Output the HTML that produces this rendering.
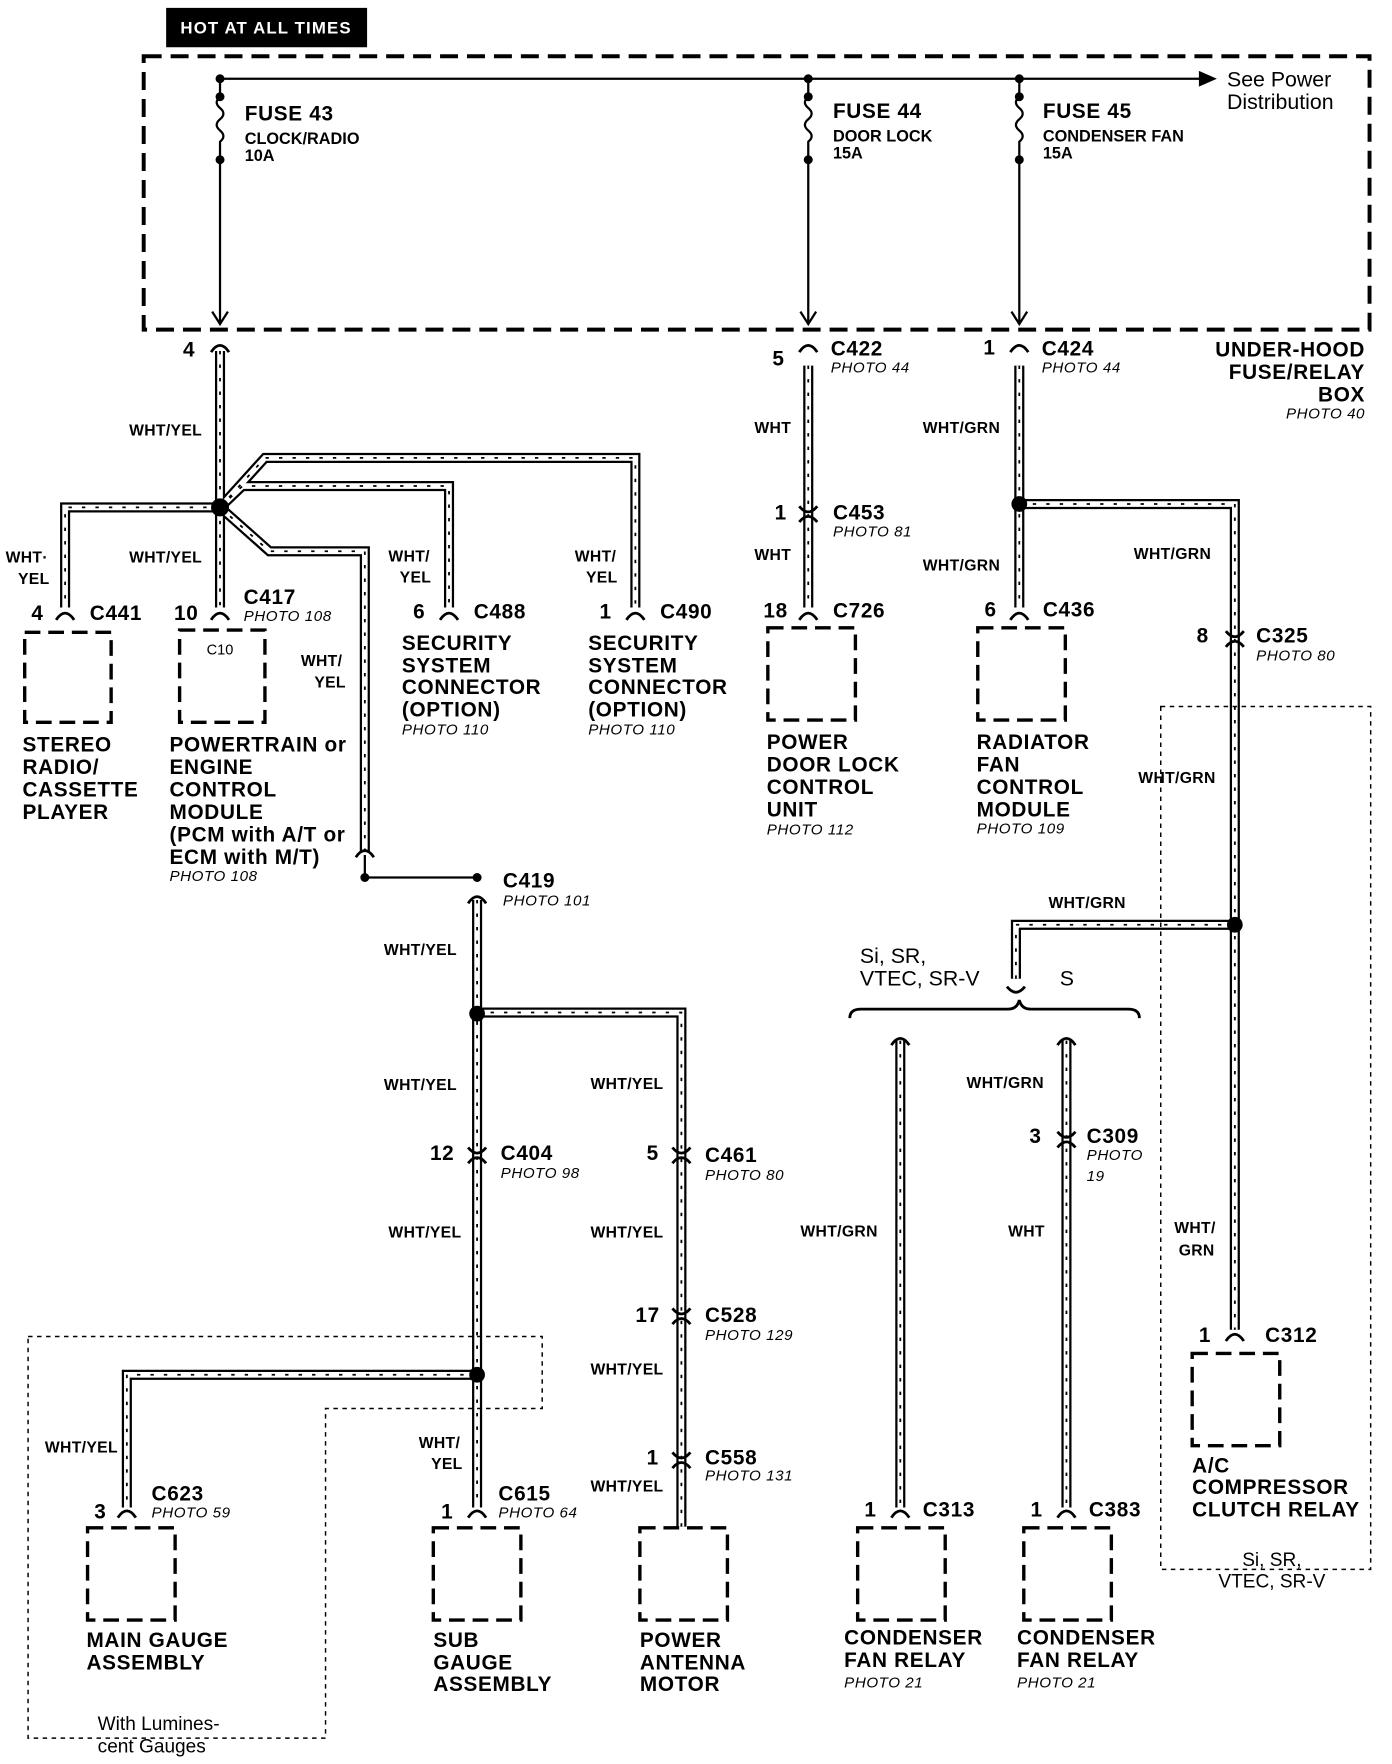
<!DOCTYPE html>
<html><head><meta charset="utf-8"><style>
html,body{margin:0;padding:0;background:#fff}
svg{display:block}
text{font-family:"Liberation Sans",Arial,sans-serif;fill:#000}
.b{font-weight:bold;font-size:18.5px;letter-spacing:0.6px}
.s{font-weight:bold;font-size:14.5px}
.p{font-style:italic;font-size:13.5px;letter-spacing:0.5px}
.w{font-weight:bold;font-size:14px;letter-spacing:0.3px}
.t{font-size:19px}
.o{stroke:#000;stroke-width:9;fill:none}
.i{stroke:#fff;stroke-width:5;fill:none}
.d{stroke:#000;stroke-width:1.6;fill:none;stroke-dasharray:3 9}
.bx{fill:none;stroke:#000;stroke-width:3;stroke-dasharray:14 7}
.c{fill:none;stroke:#000;stroke-width:2.5}
</style></head><body>
<svg width="1392" height="1764" viewBox="0 0 1240 1568" preserveAspectRatio="none" xmlns="http://www.w3.org/2000/svg">
<defs>
<g id="wires">
<path d="M196 312 V451"/>
<path d="M196 451 H58 V540"/>
<path d="M196 451 V540"/>
<path d="M196 451 L236 407 H566 V540"/>
<path d="M196 451 L216 432 H400 V540"/>
<path d="M196 451 L240 490 H325 V758"/>
<path d="M425 800 V1340"/>
<path d="M425 900 H607 V1357"/>
<path d="M425 1222 H113 V1340"/>
<path d="M720 325 V540"/>
<path d="M908 325 V540"/>
<path d="M908 448 H1100 V1182"/>
<path d="M1100 822 H905 V870"/>
<path d="M802 925 V1340"/>
<path d="M950 925 V1340"/>
</g>
</defs>
<rect x="148" y="7" width="179" height="35" fill="#000"/>
<text x="237" y="30" text-anchor="middle" style="font-weight:bold;font-size:15px;fill:#fff;letter-spacing:1px">HOT AT ALL TIMES</text>
<rect x="128" y="50" width="1092" height="243" fill="none" stroke="#000" stroke-width="3.5" stroke-dasharray="16 8"/>
<path d="M196 70 H1072" stroke="#000" stroke-width="2"/>
<path d="M1068 63 L1084 70 L1068 77 Z" fill="#000"/>
<text x="1093" y="77" class="t">See Power</text>
<text x="1093" y="97" class="t">Distribution</text>
<g stroke="#000" stroke-width="2" fill="none">
<path d="M196 70 V86 q-6 5 0 10 q6 5 0 10 q-6 5 0 10 q6 5 0 10 V286"/>
<path d="M720 70 V86 q-6 5 0 10 q6 5 0 10 q-6 5 0 10 q6 5 0 10 V286"/>
<path d="M908 70 V86 q-6 5 0 10 q6 5 0 10 q-6 5 0 10 q6 5 0 10 V286"/>
<path d="M189 277 L196 288 L203 277"/><path d="M713 277 L720 288 L727 277"/><path d="M901 277 L908 288 L915 277"/>
<path d="M325 760 V780 H425"/>
</g>
<g fill="#000">
<circle cx="196" cy="70" r="4"/><circle cx="720" cy="70" r="4"/><circle cx="908" cy="70" r="4"/>
<circle cx="196" cy="86" r="4"/><circle cx="196" cy="142" r="4"/>
<circle cx="720" cy="86" r="4"/><circle cx="720" cy="142" r="4"/>
<circle cx="908" cy="86" r="4"/><circle cx="908" cy="142" r="4"/>
<circle cx="325" cy="780" r="4"/><circle cx="425" cy="780" r="4"/>
</g>
<text x="218" y="107" class="b">FUSE 43</text><text x="218" y="128" class="s">CLOCK/RADIO</text><text x="218" y="143" class="s">10A</text>
<text x="742" y="105" class="b">FUSE 44</text><text x="742" y="126" class="s">DOOR LOCK</text><text x="742" y="141" class="s">15A</text>
<text x="929" y="105" class="b">FUSE 45</text><text x="929" y="126" class="s">CONDENSER FAN</text><text x="929" y="141" class="s">15A</text>
<text x="1216" y="317" class="b" text-anchor="end">UNDER-HOOD</text>
<text x="1216" y="337" class="b" text-anchor="end">FUSE/RELAY</text>
<text x="1216" y="357" class="b" text-anchor="end">BOX</text>
<text x="1216" y="372" class="p" text-anchor="end">PHOTO 40</text>
<use href="#wires" class="o"/><use href="#wires" class="i"/><use href="#wires" class="d"/>
<g fill="#000"><circle cx="196" cy="451" r="8"/><circle cx="425" cy="901" r="7"/><circle cx="425" cy="1222" r="7"/><circle cx="908" cy="448" r="7"/><circle cx="1100" cy="822" r="7"/></g>
<g class="c">
<path d="M188 313 q8 -12 16 0"/><path d="M712 313 q8 -12 16 0"/><path d="M900 313 q8 -12 16 0"/>
<path d="M50 551 q8 -12 16 0"/><path d="M188 551 q8 -12 16 0"/><path d="M392 551 q8 -12 16 0"/><path d="M558 551 q8 -12 16 0"/>
<path d="M712 551 q8 -12 16 0"/><path d="M900 551 q8 -12 16 0"/>
<path d="M712 450 q8 10 16 0"/><path d="M712 464 q8 -10 16 0"/>
<path d="M1092 561 q8 10 16 0"/><path d="M1092 575 q8 -10 16 0"/>
<path d="M317 762 q8 -12 16 0"/><path d="M417 803 q8 -12 16 0"/>
<path d="M417 1020 q8 10 16 0"/><path d="M417 1034 q8 -10 16 0"/>
<path d="M599 1020 q8 10 16 0"/><path d="M599 1034 q8 -10 16 0"/>
<path d="M599 1163 q8 10 16 0"/><path d="M599 1177 q8 -10 16 0"/>
<path d="M599 1291 q8 10 16 0"/><path d="M599 1305 q8 -10 16 0"/>
<path d="M942 1006 q8 10 16 0"/><path d="M942 1020 q8 -10 16 0"/>
<path d="M794 929 q8 -12 16 0"/><path d="M942 929 q8 -12 16 0"/><path d="M897 877 q8 10 16 0"/>
<path d="M105 1349 q8 -12 16 0"/><path d="M417 1349 q8 -12 16 0"/><path d="M794 1349 q8 -12 16 0"/><path d="M942 1349 q8 -12 16 0"/><path d="M1092 1192 q8 -12 16 0"/>
<path d="M757 905 q0 -8 10 -8 H898 q8 0 10 -8 q2 8 10 8 H1005 q10 0 10 8"/>
</g>
<rect class="bx" x="22" y="562" width="77" height="80"/>
<rect class="bx" x="160" y="560" width="76" height="82"/>
<rect class="bx" x="684" y="558" width="78" height="82"/>
<rect class="bx" x="871" y="558" width="78" height="82"/>
<rect class="bx" x="78" y="1358" width="78" height="82"/>
<rect class="bx" x="386" y="1358" width="78" height="82"/>
<rect class="bx" x="570" y="1358" width="78" height="82"/>
<rect class="bx" x="764" y="1358" width="78" height="82"/>
<rect class="bx" x="912" y="1358" width="78" height="82"/>
<rect class="bx" x="1062" y="1203" width="78" height="82"/>
<text x="196" y="582" text-anchor="middle" style="font-size:13px">C10</text>
<rect x="1034" y="628" width="187" height="767" fill="none" stroke="#000" stroke-width="1.3" stroke-dasharray="4 4"/>
<path d="M25 1188 H483 V1252 H290 V1545 H25 Z" fill="none" stroke="#000" stroke-width="1.3" stroke-dasharray="4 4"/>
<text x="163" y="317" class="b">4</text>
<text x="688" y="325" class="b">5</text><text x="740" y="316" class="b">C422</text><text x="740" y="331" class="p">PHOTO 44</text>
<text x="876" y="315" class="b">1</text><text x="928" y="316" class="b">C424</text><text x="928" y="331" class="p">PHOTO 44</text>
<text x="115" y="387" class="w">WHT/YEL</text>
<text x="672" y="385" class="w">WHT</text>
<text x="822" y="385" class="w">WHT/GRN</text>
<text x="690" y="462" class="b">1</text><text x="742" y="462" class="b">C453</text><text x="742" y="477" class="p">PHOTO 81</text>
<text x="672" y="498" class="w">WHT</text>
<text x="822" y="507" class="w">WHT/GRN</text>
<text x="1010" y="497" class="w">WHT/GRN</text>
<text x="5" y="500" class="w">WHT·</text><text x="16" y="519" class="w">YEL</text>
<text x="115" y="500" class="w">WHT/YEL</text>
<text x="346" y="499" class="w">WHT/</text><text x="356" y="518" class="w">YEL</text>
<text x="512" y="499" class="w">WHT/</text><text x="522" y="518" class="w">YEL</text>
<text x="268" y="592" class="w">WHT/</text><text x="280" y="611" class="w">YEL</text>
<text x="28" y="551" class="b">4</text><text x="80" y="551" class="b">C441</text>
<text x="155" y="551" class="b">10</text><text x="217" y="537" class="b">C417</text><text x="217" y="552" class="p">PHOTO 108</text>
<text x="368" y="550" class="b">6</text><text x="422" y="550" class="b">C488</text>
<text x="534" y="550" class="b">1</text><text x="588" y="550" class="b">C490</text>
<text x="680" y="549" class="b">18</text><text x="742" y="549" class="b">C726</text>
<text x="877" y="548" class="b">6</text><text x="929" y="548" class="b">C436</text>
<text x="1066" y="571" class="b">8</text><text x="1119" y="571" class="b">C325</text><text x="1119" y="587" class="p">PHOTO 80</text>
<text x="1014" y="696" class="w">WHT/GRN</text>
<text x="20" y="668" class="b">STEREO</text><text x="20" y="688" class="b">RADIO/</text><text x="20" y="708" class="b">CASSETTE</text><text x="20" y="728" class="b">PLAYER</text>
<text x="151" y="668" class="b">POWERTRAIN or</text><text x="151" y="688" class="b">ENGINE</text><text x="151" y="708" class="b">CONTROL</text><text x="151" y="728" class="b">MODULE</text><text x="151" y="748" class="b">(PCM with A/T or</text><text x="151" y="768" class="b">ECM with M/T)</text><text x="151" y="783" class="p">PHOTO 108</text>
<text x="358" y="578" class="b">SECURITY</text><text x="358" y="598" class="b">SYSTEM</text><text x="358" y="617" class="b">CONNECTOR</text><text x="358" y="637" class="b">(OPTION)</text><text x="358" y="653" class="p">PHOTO 110</text>
<text x="524" y="578" class="b">SECURITY</text><text x="524" y="598" class="b">SYSTEM</text><text x="524" y="617" class="b">CONNECTOR</text><text x="524" y="637" class="b">(OPTION)</text><text x="524" y="653" class="p">PHOTO 110</text>
<text x="683" y="666" class="b">POWER</text><text x="683" y="686" class="b">DOOR LOCK</text><text x="683" y="706" class="b">CONTROL</text><text x="683" y="726" class="b">UNIT</text><text x="683" y="742" class="p">PHOTO 112</text>
<text x="870" y="666" class="b">RADIATOR</text><text x="870" y="686" class="b">FAN</text><text x="870" y="706" class="b">CONTROL</text><text x="870" y="726" class="b">MODULE</text><text x="870" y="741" class="p">PHOTO 109</text>
<text x="448" y="789" class="b">C419</text><text x="448" y="805" class="p">PHOTO 101</text>
<text x="342" y="849" class="w">WHT/YEL</text>
<text x="934" y="807" class="w">WHT/GRN</text>
<text x="766" y="856" class="t">Si, SR,</text><text x="766" y="876" class="t">VTEC, SR-V</text>
<text x="944" y="876" class="t">S</text>
<text x="342" y="969" class="w">WHT/YEL</text><text x="526" y="968" class="w">WHT/YEL</text>
<text x="861" y="967" class="w">WHT/GRN</text>
<text x="383" y="1031" class="b">12</text><text x="446" y="1031" class="b">C404</text><text x="446" y="1047" class="p">PHOTO 98</text>
<text x="576" y="1031" class="b">5</text><text x="628" y="1033" class="b">C461</text><text x="628" y="1049" class="p">PHOTO 80</text>
<text x="917" y="1016" class="b">3</text><text x="968" y="1016" class="b">C309</text><text x="968" y="1031" class="p">PHOTO</text><text x="968" y="1050" class="p">19</text>
<text x="346" y="1100" class="w">WHT/YEL</text><text x="526" y="1100" class="w">WHT/YEL</text>
<text x="713" y="1099" class="w">WHT/GRN</text><text x="898" y="1099" class="w">WHT</text>
<text x="1046" y="1096" class="w">WHT/</text><text x="1050" y="1116" class="w">GRN</text>
<text x="566" y="1175" class="b">17</text><text x="628" y="1175" class="b">C528</text><text x="628" y="1191" class="p">PHOTO 129</text>
<text x="526" y="1222" class="w">WHT/YEL</text>
<text x="1068" y="1193" class="b">1</text><text x="1127" y="1193" class="b">C312</text>
<text x="40" y="1291" class="w">WHT/YEL</text>
<text x="373" y="1287" class="w">WHT/</text><text x="384" y="1306" class="w">YEL</text>
<text x="576" y="1302" class="b">1</text><text x="628" y="1302" class="b">C558</text><text x="628" y="1316" class="p">PHOTO 131</text>
<text x="526" y="1326" class="w">WHT/YEL</text>
<text x="84" y="1350" class="b">3</text><text x="135" y="1334" class="b">C623</text><text x="135" y="1349" class="p">PHOTO 59</text>
<text x="393" y="1350" class="b">1</text><text x="444" y="1334" class="b">C615</text><text x="444" y="1349" class="p">PHOTO 64</text>
<text x="770" y="1348" class="b">1</text><text x="822" y="1348" class="b">C313</text>
<text x="918" y="1348" class="b">1</text><text x="970" y="1348" class="b">C383</text>
<text x="1062" y="1309" class="b">A/C</text><text x="1062" y="1328" class="b">COMPRESSOR</text><text x="1062" y="1348" class="b">CLUTCH RELAY</text>
<text x="1133" y="1392" text-anchor="middle" style="font-size:17px">Si, SR,</text><text x="1133" y="1411" text-anchor="middle" style="font-size:17px">VTEC, SR-V</text>
<text x="77" y="1464" class="b">MAIN GAUGE</text><text x="77" y="1484" class="b">ASSEMBLY</text>
<text x="386" y="1464" class="b">SUB</text><text x="386" y="1484" class="b">GAUGE</text><text x="386" y="1503" class="b">ASSEMBLY</text>
<text x="570" y="1464" class="b">POWER</text><text x="570" y="1484" class="b">ANTENNA</text><text x="570" y="1503" class="b">MOTOR</text>
<text x="752" y="1462" class="b">CONDENSER</text><text x="752" y="1482" class="b">FAN RELAY</text><text x="752" y="1500" class="p">PHOTO 21</text>
<text x="906" y="1462" class="b">CONDENSER</text><text x="906" y="1482" class="b">FAN RELAY</text><text x="906" y="1500" class="p">PHOTO 21</text>
<text x="87" y="1538" style="font-size:17px">With Lumines-</text><text x="87" y="1558" style="font-size:17px">cent Gauges</text>
</svg>
</body></html>
